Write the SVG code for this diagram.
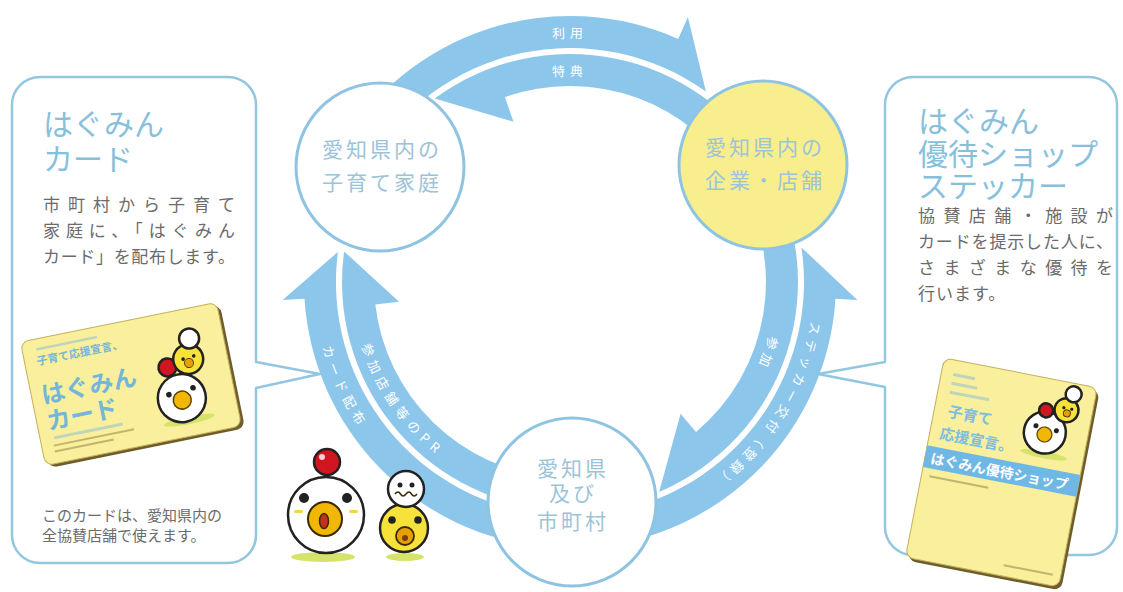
<svg xmlns="http://www.w3.org/2000/svg" width="1123" height="592" viewBox="0 0 1123 592">
  <style>
    text { font-family: "Noto Sans CJK JP", "Noto Sans", sans-serif; }
    .band { fill: #8dc6eb; }
    .band-label { fill: #ffffff; font-size: 13px; letter-spacing: 5px; dominant-baseline: central; }
    .node { stroke: #8ec4e2; stroke-width: 3; }
    .node-text { fill: #9cc4d8; font-size: 21px; letter-spacing: 3px; text-anchor: middle; }
    .callout { fill: #ffffff; stroke: #93c7df; stroke-width: 2.5; stroke-linejoin: round; }
    .title { fill: #88c0dc; font-size: 30px; }
    .body { fill: #6b6b6b; font-size: 17px; }
    .note { fill: #6b6b6b; font-size: 15px; }
    .card { fill: #f9ef9c; stroke: #c4b15a; stroke-width: 1; }
    .card-shadow { fill: #6e5d2c; }
    .outline { stroke: #222222; stroke-width: 2.5; }
    .fine { fill: #8fbfd6; opacity: 0.55; }
  </style>

  <defs>
    <!-- guide arcs for the lettering on the ring arrows -->
    <path id="arc-use" d="M 484.5,47.1 A 250 250 0 0 1 655.5,47.1"/>
    <path id="arc-perk" d="M 480.4,89.9 A 212 212 0 0 1 659.6,89.9"/>
    <path id="arc-card" d="M 321.0,260.2 A 250 250 0 0 0 426.6,486.8"/>
    <path id="arc-pr" d="M 358.8,263.5 A 212 212 0 0 0 515.1,486.8"/>
    <path id="arc-sticker" d="M 817.6,247.2 A 250 250 0 0 1 647.3,519.8"/>
    <path id="arc-join" d="M 778.8,245.2 A 212 212 0 0 1 706.3,444.4"/>
  </defs>

  <rect width="1123" height="592" fill="#ffffff"/>

  <!-- left callout: the card -->
  <g id="callout-card">
    <path class="callout" d="M 40,77 H 228 A 28 28 0 0 1 256,105 V 362 L 320,374 L 256,388 V 535 A 28 28 0 0 1 228,563 H 40 A 28 28 0 0 1 12,535 V 105 A 28 28 0 0 1 40,77 Z"/>
    <text class="title" x="43" y="135">はぐみん</text>
    <text class="title" x="43" y="170">カード</text>
    <text class="body" x="43" y="211" textLength="192" lengthAdjust="spacing">市町村から子育て</text>
    <text class="body" x="43" y="237" textLength="192" lengthAdjust="spacing">家庭に、「はぐみん</text>
    <text class="body" x="43" y="263" textLength="192" lengthAdjust="spacing">カード」を配布します。</text>
    <g transform="translate(131,384) rotate(-11.5)">
      <rect class="card-shadow" x="-97" y="-60" width="200" height="126" rx="8"/>
      <rect class="card" x="-100" y="-63" width="200" height="126" rx="8"/>
      <rect class="fine" x="-86" y="-54" width="62" height="2.5"/>
      <text x="-88" y="-37" font-size="11" font-weight="700" fill="#78b6d8">子育て応援宣言、</text>
      <text x="-90" y="2" font-size="24" font-weight="700" fill="#74b5dc">はぐみん</text>
      <text x="-90" y="29" font-size="24" font-weight="700" fill="#74b5dc">カード</text>
      <rect class="fine" x="-86" y="36" width="70" height="3"/>
      <rect x="-88" y="44" width="82" height="2" fill="#8c7a40" opacity="0.5"/>
      <rect x="-88" y="50" width="60" height="2" fill="#8c7a40" opacity="0.5"/>
      <ellipse cx="50" cy="47" rx="26" ry="4" fill="#d6e36a"/>
      <circle class="outline" cx="47" cy="24" r="24" fill="#ffffff"/>
      <circle class="outline" cx="39" cy="-9" r="9" fill="#d0161e" stroke-width="1.5"/>
      <circle class="outline" cx="61" cy="-13" r="15" fill="#f7e23a" stroke-width="2"/>
      <circle class="outline" cx="66" cy="-33" r="10" fill="#ffffff" stroke-width="1.5"/>
      <circle cx="35" cy="18" r="2.8" fill="#222"/>
      <circle cx="60" cy="16" r="2.8" fill="#222"/>
      <circle cx="47" cy="26" r="9" fill="#f2b705" stroke="#5a4000" stroke-width="1.5"/>
      <circle cx="56" cy="-14" r="1.8" fill="#222"/>
      <circle cx="67" cy="-15" r="1.8" fill="#222"/>
      <circle cx="61" cy="-9" r="4.5" fill="#e8a000" stroke="#5a4000" stroke-width="1"/>
    </g>
    <text class="note" x="42" y="521">このカードは、愛知県内の</text>
    <text class="note" x="42" y="541">全協賛店舗で使えます。</text>
  </g>

  <!-- right callout: the sticker -->
  <g id="callout-sticker">
    <path class="callout" d="M 913,77 H 1089 A 28 28 0 0 1 1117,105 V 527 A 28 28 0 0 1 1089,555 H 913 A 28 28 0 0 1 885,527 V 387 L 818,374 L 885,362 V 105 A 28 28 0 0 1 913,77 Z"/>
    <text class="title" x="918" y="132" font-size="31">はぐみん</text>
    <text class="title" x="918" y="165" font-size="31">優待ショップ</text>
    <text class="title" x="918" y="197" font-size="31">ステッカー</text>
    <text class="body" x="918" y="222" textLength="195" lengthAdjust="spacing">協賛店舗・施設が</text>
    <text class="body" x="918" y="248" textLength="195" lengthAdjust="spacing">カードを提示した人に、</text>
    <text class="body" x="918" y="274" textLength="195" lengthAdjust="spacing">さまざまな優待を</text>
    <text class="body" x="918" y="300" letter-spacing="1">行います。</text>
    <g transform="translate(1001.5,472) rotate(11)">
      <rect class="card-shadow" x="-75" y="-98" width="156" height="203" rx="8"/>
      <rect class="card" x="-78" y="-101" width="156" height="203" rx="8"/>
      <rect class="fine" x="-66" y="-88" width="22" height="3"/>
      <rect class="fine" x="-66" y="-79" width="26" height="3"/>
      <rect class="fine" x="-66" y="-70" width="40" height="3"/>
      <text x="-64" y="-44" font-size="15" font-weight="700" fill="#7dbde0">子育て</text>
      <text x="-68" y="-21" font-size="15" font-weight="700" fill="#7dbde0">応援宣言。</text>
      <rect x="-78" y="-12" width="156" height="22" fill="#6fb8e6"/>
      <text x="-72" y="5" font-size="14" font-weight="700" fill="#ffffff" textLength="140" lengthAdjust="spacing">はぐみん優待ショップ</text>
      <rect x="-70" y="17" width="60" height="2" fill="#8c7a40" opacity="0.5"/>
      <rect x="20" y="90" width="50" height="2" fill="#8c7a40" opacity="0.5"/>
      <ellipse cx="38" cy="-25" rx="24" ry="3.5" fill="#d6e36a"/>
      <circle class="outline" cx="35" cy="-47" r="21" fill="#ffffff" stroke-width="2.2"/>
      <circle class="outline" cx="32" cy="-69" r="7" fill="#d0161e" stroke-width="1.5"/>
      <circle class="outline" cx="52" cy="-73" r="12" fill="#f7e23a" stroke-width="1.8"/>
      <circle class="outline" cx="56" cy="-90" r="8" fill="#ffffff" stroke-width="1.5"/>
      <circle cx="25" cy="-52" r="2.5" fill="#222"/>
      <circle cx="46" cy="-51" r="2.5" fill="#222"/>
      <circle cx="35" cy="-45" r="7.5" fill="#f2b705" stroke="#5a4000" stroke-width="1.2"/>
      <circle cx="49" cy="-75" r="1.6" fill="#222"/>
      <circle cx="57" cy="-75" r="1.6" fill="#222"/>
      <circle cx="53" cy="-70" r="3.5" fill="#e8a000" stroke="#5a4000" stroke-width="1"/>
    </g>
  </g>

  <!-- ring of flow arrows -->
  <g id="connectors">
    <!-- 利用: family -> shops -->
    <path class="band" d="M 339.6,149.0 A 266 266 0 0 1 678.2,39.0 L 687.9,17.1 L 705.9,91.5 A 234 234 0 0 0 367.4,165.0 Z"/>
    <!-- 特典: shops -> family -->
    <path class="band" d="M 765.4,164.6 A 228 228 0 0 0 434.7,98.5 L 513.5,121.7 L 504.9,97.1 A 196 196 0 0 1 738.0,181.1 Z"/>
    <!-- カード配布: government -> family -->
    <path class="band" d="M 546.8,547.0 A 266 266 0 0 1 304.5,298.7 L 282.6,300.1 L 337.9,251.9 A 234 234 0 0 0 549.6,515.1 Z"/>
    <!-- 参加店舗等のPR: government -> family -->
    <path class="band" d="M 552.9,477.3 A 196 196 0 0 1 375.3,304.5 L 399.1,301.8 L 344.1,251.4 A 228 228 0 0 0 550.1,509.1 Z"/>
    <!-- ステッカー交付（登録）: government -> shops -->
    <path class="band" d="M 593.2,547.0 A 266 266 0 0 0 835.5,298.7 L 857.4,300.1 L 801.4,247.4 A 234 234 0 0 1 590.4,515.1 Z"/>
    <!-- 参加: shops -> government -->
    <path class="band" d="M 765.4,164.6 A 228 228 0 0 1 659.1,491.9 L 680.6,413.8 L 696.0,432.1 A 196 196 0 0 0 738.0,181.1 Z"/>

    <text class="band-label"><textPath href="#arc-use" startOffset="50%" text-anchor="middle">利用</textPath></text>
    <text class="band-label"><textPath href="#arc-perk" startOffset="50%" text-anchor="middle">特典</textPath></text>
    <text class="band-label"><textPath href="#arc-card" startOffset="50%" text-anchor="middle">カード配布</textPath></text>
    <text class="band-label"><textPath href="#arc-pr" startOffset="50%" text-anchor="middle">参加店舗等のPR</textPath></text>
    <text class="band-label"><textPath href="#arc-sticker" startOffset="50%" text-anchor="middle">ステッカー交付（登録）</textPath></text>
    <text class="band-label"><textPath href="#arc-join" startOffset="50%" text-anchor="middle">参加</textPath></text>
  </g>

  <!-- nodes -->
  <g id="node-family">
    <circle class="node" cx="380" cy="167" r="84" fill="#ffffff"/>
    <text class="node-text" x="382" y="157">愛知県内の</text>
    <text class="node-text" x="382" y="190">子育て家庭</text>
  </g>
  <g id="node-shops">
    <circle class="node" cx="763" cy="165" r="84" fill="#f9ee8e"/>
    <text class="node-text" x="765" y="155">愛知県内の</text>
    <text class="node-text" x="765" y="188">企業・店舗</text>
  </g>
  <g id="node-gov">
    <circle class="node" cx="572" cy="502" r="84" fill="#ffffff"/>
    <text class="node-text" x="573" y="476">愛知県</text>
    <text class="node-text" x="573" y="501">及び</text>
    <text class="node-text" x="573" y="529">市町村</text>
  </g>

  <!-- mascots -->
  <g id="mascots">
    <ellipse cx="323" cy="557" rx="32" ry="5" fill="#d6e36a"/>
    <ellipse cx="405" cy="557" rx="19" ry="4" fill="#d6e36a"/>
    <circle class="outline" cx="327" cy="462" r="13" fill="#d0161e" stroke-width="2"/>
    <circle cx="322" cy="457" r="3" fill="#ffffff" opacity="0.8"/>
    <circle class="outline" cx="326" cy="515" r="38" fill="#ffffff" stroke-width="3"/>
    <circle cx="304" cy="498" r="5" fill="#222"/>
    <circle cx="347" cy="498" r="5" fill="#222"/>
    <rect x="294" y="510" width="9" height="3" rx="1.5" fill="#f2d64a"/>
    <rect x="349" y="510" width="9" height="3" rx="1.5" fill="#f2d64a"/>
    <circle cx="325" cy="519" r="17" fill="#f2b705" stroke="#3a2a00" stroke-width="2"/>
    <ellipse cx="324" cy="521" rx="4.5" ry="7.5" fill="#c0311e" stroke="#3a2a00" stroke-width="1.5"/>
    <circle class="outline" cx="404" cy="528" r="24" fill="#f7e23a" stroke-width="2.5"/>
    <circle class="outline" cx="406" cy="489" r="18" fill="#ffffff" stroke-width="2.5"/>
    <circle cx="400" cy="485" r="2.5" fill="#222"/>
    <circle cx="412" cy="485" r="2.5" fill="#222"/>
    <path d="M 395,494 q 3,-4 5.5,0 t 5.5,0 t 5.5,0 t 5.5,0" fill="none" stroke="#3a2a00" stroke-width="1.5"/>
    <circle cx="392" cy="520" r="3.8" fill="#222"/>
    <circle cx="418" cy="520" r="3.8" fill="#222"/>
    <circle cx="405" cy="536" r="9" fill="#e8a000" stroke="#3a2a00" stroke-width="1.8"/>
    <circle cx="405" cy="538" r="3" fill="#7a3a10"/>
  </g>
</svg>
